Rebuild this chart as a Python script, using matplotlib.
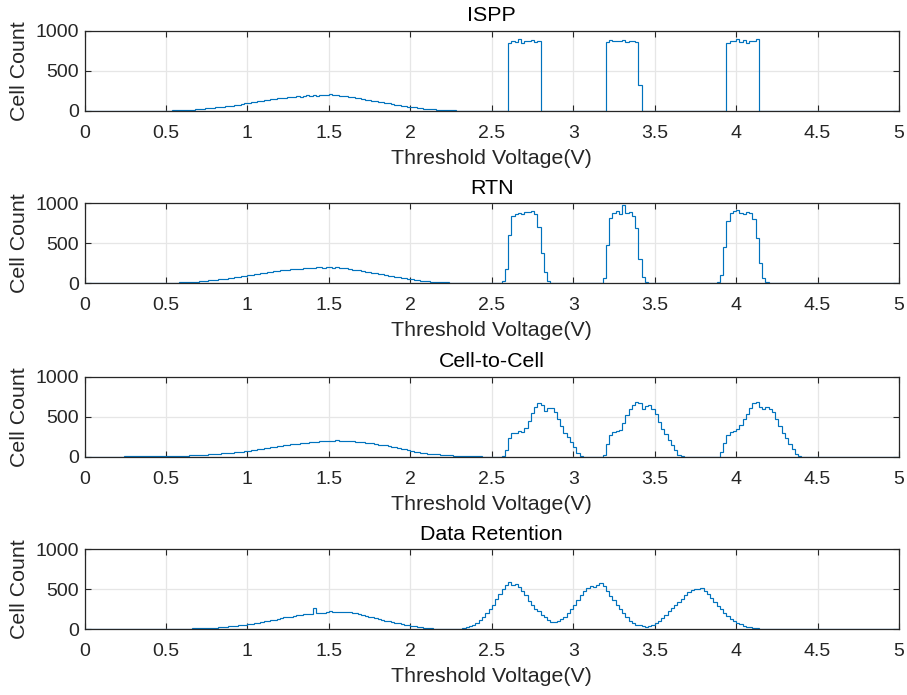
import numpy as np
import matplotlib
matplotlib.use("Agg")
import matplotlib.pyplot as plt

plt.rcParams['font.family'] = ['Liberation Sans', 'DejaVu Sans']

# Threshold-voltage histogram, bin width 0.02 V from 0 to 5 V (25 bins per 0.5 V row)
bin_width = 0.02
v_min, v_max = 0.0, 5.0
titles = ["ISPP", "RTN", "Cell-to-Cell", "Data Retention"]
x_ticks = [0, 0.5, 1, 1.5, 2, 2.5, 3, 3.5, 4, 4.5, 5]
x_tick_labels = ["0", "0.5", "1", "1.5", "2", "2.5", "3", "3.5", "4", "4.5", "5"]
y_ticks = [0, 500, 1000]
x_label = "Threshold Voltage(V)"
y_label = "Cell Count"

ispp_counts = (
    [0, 0, 0, 0, 0, 0, 0, 0, 0, 0, 0, 0, 0, 0, 0, 1, 1, 1, 2, 2, 2, 3, 3, 4, 4]
    + [5, 6, 7, 8, 10, 12, 13, 16, 18, 22, 25, 29, 33, 36, 41, 45, 48, 54, 58, 61, 67, 72, 80, 86, 95]
    + [104, 110, 116, 122, 126, 135, 138, 146, 150, 158, 162, 167, 174, 170, 178, 182, 179, 186, 195, 185, 195, 192, 205, 194, 202]
    + [210, 198, 195, 190, 186, 182, 174, 170, 162, 158, 150, 142, 137, 128, 122, 115, 108, 100, 94, 86, 80, 72, 66, 60, 55]
    + [48, 44, 40, 35, 30, 27, 22, 20, 17, 14, 12, 10, 9, 8, 6, 5, 5, 4, 3, 3, 3, 2, 2, 2, 2]
    + [2, 1, 1, 0, 0, 850, 880, 860, 895, 845, 880, 870, 885, 860, 875, 0, 0, 0, 0, 0, 0, 0, 0, 0, 0]
    + [0, 0, 0, 0, 0, 0, 0, 0, 0, 0, 860, 890, 875, 880, 870, 885, 865, 880, 875, 860, 330, 0, 0, 0, 0]
    + [0] * 22 + [850, 870, 880]
    + [900, 860, 890, 845, 875, 880, 895] + [0] * 18
    + [0] * 25
)

rtn_counts = (
    [0, 0, 0, 0, 0, 0, 0, 0, 0, 0, 0, 0, 0, 0, 1, 1, 1, 2, 2, 2, 3, 3, 4, 4, 5]
    + [5, 6, 8, 9, 10, 12, 14, 16, 19, 22, 25, 28, 32, 36, 40, 44, 49, 53, 58, 63, 68, 74, 80, 87, 95]
    + [102, 108, 114, 120, 128, 132, 140, 145, 152, 155, 162, 168, 166, 174, 180, 176, 184, 190, 186, 194, 190, 198, 202, 195, 200]
    + [208, 196, 200, 192, 188, 185, 176, 172, 165, 160, 152, 145, 138, 130, 124, 116, 110, 102, 95, 88, 80, 74, 67, 60, 54]
    + [48, 43, 38, 34, 30, 26, 22, 19, 16, 14, 12, 10, 8, 7, 6, 5, 5, 4, 4, 3, 3, 3, 2, 2, 2]
    + [3, 4, 8, 30, 180, 600, 840, 870, 880, 865, 890, 885, 900, 870, 700, 380, 140, 30, 8, 2, 0, 0, 0, 0, 0]
    + [0] * 8 + [5, 60, 480, 820, 880, 900, 870, 980, 880, 890, 840, 690, 300, 80, 20, 5, 0]
    + [0] * 19 + [10, 100, 450, 780, 880, 900]
    + [920, 880, 870, 895, 880, 800, 560, 250, 70, 15, 3] + [0] * 14
    + [0] * 25
)

c2c_counts = (
    [0, 0, 0, 0, 0, 1, 1, 1, 2, 2, 2, 2, 3, 3, 3, 3, 3, 4, 4, 4, 4, 5, 5, 5, 5]
    + [6, 6, 7, 8, 10, 11, 13, 15, 17, 19, 21, 23, 26, 28, 31, 34, 37, 40, 43, 47, 51, 55, 60, 64, 69]
    + [75, 80, 86, 92, 97, 104, 110, 117, 125, 128, 135, 142, 148, 153, 158, 162, 167, 172, 175, 180, 188, 185, 190, 196, 192]
    + [198, 202, 205, 197, 200, 194, 190, 192, 186, 182, 178, 172, 168, 166, 160, 152, 146, 140, 132, 125, 117, 108, 100, 92, 85]
    + [65, 58, 53, 48, 42, 38, 34, 31, 28, 24, 21, 18, 16, 14, 12, 10, 8, 7, 6, 5, 4, 3, 2, 2, 1]
    + [1, 0, 0, 10, 80, 230, 290, 300, 320, 310, 360, 450, 540, 620, 670, 650, 570, 610, 605, 560, 470, 380, 300, 240, 180]
    + [120, 50, 8, 0, 0, 0, 0, 0, 0, 20, 160, 270, 305, 315, 330, 420, 520, 600, 650, 680, 665, 590, 630, 640, 600]
    + [530, 430, 350, 280, 210, 150, 80, 20, 3] + [0] * 11 + [60, 170, 270, 310, 320]
    + [340, 390, 470, 530, 610, 670, 680, 620, 600, 615, 600, 560, 470, 380, 300, 230, 160, 100, 30, 5] + [0] * 5
    + [0] * 25
)

retention_counts = (
    [0, 0, 0, 0, 0, 0, 0, 0, 0, 0, 0, 0, 0, 0, 0, 1, 1, 1, 1, 2, 2, 2, 2, 3, 3]
    + [4, 5, 5, 6, 7, 8, 9, 10, 12, 13, 14, 15, 17, 18, 20, 21, 25, 28, 32, 36, 40, 45, 50, 55, 60]
    + [64, 70, 76, 82, 90, 98, 104, 112, 120, 130, 140, 148, 153, 160, 168, 175, 182, 188, 191, 195, 265, 204, 200, 210, 215]
    + [225, 220, 218, 222, 215, 212, 214, 205, 198, 188, 175, 168, 160, 150, 140, 125, 118, 108, 100, 92, 82, 75, 66, 58, 50]
    + [42, 36, 30, 25, 20, 16, 13, 10, 8, 7, 6, 5, 4, 4, 5, 8, 14, 25, 40, 60, 85, 120, 160, 200, 250]
    + [300, 380, 440, 510, 560, 595, 560, 570, 530, 480, 430, 360, 310, 260, 225, 180, 150, 115, 95, 88, 100, 125, 160, 200, 260]
    + [310, 370, 430, 480, 520, 540, 530, 555, 575, 545, 480, 420, 370, 310, 260, 205, 150, 100, 75, 58, 48, 40, 35, 38, 55]
    + [80, 110, 145, 185, 225, 265, 305, 340, 385, 430, 470, 490, 510, 505, 515, 480, 440, 390, 340, 290, 250, 205, 170, 135, 105]
    + [85, 65, 45, 32, 24, 18, 13, 10, 7, 5, 4, 3, 3, 2, 2, 1, 1, 1, 0, 0, 0, 0, 0, 0, 0]
    + [0] * 25
)

all_counts = [ispp_counts, rtn_counts, c2c_counts, retention_counts]

edges = np.round(np.arange(v_min, v_max + bin_width / 2, bin_width), 4)

line_color = "#0072BD"
text_color = "#262626"
grid_color = "#E6E6E6"

fig = plt.figure(figsize=(9.07, 6.95), dpi=100)
bottoms = [0.8403, 0.5924, 0.3429, 0.0945]
left, width, height = 0.0932, 0.898, 0.1151

for counts, title, b in zip(all_counts, titles, bottoms):
    ax = fig.add_axes([left, b, width, height])
    assert len(counts) == len(edges) - 1
    ax.stairs(np.array(counts, dtype=float), edges, color=line_color, linewidth=0.85, baseline=0)
    ax.set_xlim(v_min, v_max)
    ax.set_ylim(0, 1000)
    ax.set_xticks(x_ticks)
    ax.set_xticklabels(x_tick_labels)
    ax.set_yticks(y_ticks)
    ax.grid(True, color=grid_color, linewidth=0.9)
    ax.set_axisbelow(True)
    ax.tick_params(direction="in", length=4, width=0.8, top=True, right=True,
                   colors=text_color, labelsize=14)
    ax.tick_params(axis="x", pad=10)
    ax.tick_params(axis="y", pad=4)
    for sp in ax.spines.values():
        sp.set_color(text_color)
        sp.set_linewidth(0.9)
    ax.set_title(title, fontsize=15.4, color="black", pad=7)
    ax.set_xlabel(x_label, fontsize=15.4, color=text_color, labelpad=5)
    ax.set_ylabel(y_label, fontsize=15.4, color=text_color, labelpad=5)

fig.savefig("out.png", dpi=100)
